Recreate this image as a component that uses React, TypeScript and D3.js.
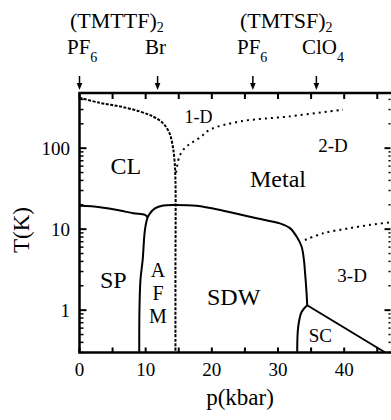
import React from 'react';
import * as d3 from 'd3';

// phase diagram of the Bechgaard / Fabre salts, T vs pressure
const width = 391;
const height = 420;

// top salt markers (kbar)
const saltNames = ['PF', 'Br', 'PF', 'ClO'];
const saltSubs = ['6', '', '6', '4'];
const saltP = [0, 11.8, 26.2, 35.8];

// charge localisation boundary (dashed)
const clP = [0, 3.1, 6.1, 9.1, 11.1, 12.6, 13.6, 14.1, 14.35, 14.5, 14.5, 14.5];
const clT = [420, 362, 328, 284, 246, 204, 153, 105, 72, 40, 3, 0.3];

// 1-D -> 2-D crossover (dotted)
const oneDP = [14.6, 15.1, 15.9, 16.9, 18.2, 19.7, 24.3, 31.8, 39.8];
const oneDT = [50, 79, 100, 116, 135, 169, 214, 247, 299];

// spin-Peierls line (solid)
const spP = [0, 3.1, 6.1, 8.13, 9.89, 10.3];
const spT = [19.4, 18.7, 17.0, 15.7, 15.0, 14.0];

// AFM + SDW boundary (solid)
const sdwP = [9.03, 9.06, 9.21, 9.55, 9.89, 10.3, 10.65, 11.4, 12.66, 14.53, 17.7, 21.72, 26.77, 30.29, 31.8, 32.81, 33.56, 33.91, 34.06, 34.32, 34.41];
const sdwT = [0.3, 1, 2.35, 4.2, 9.8, 14.0, 15.7, 18.1, 19.6, 19.9, 19.4, 16.9, 13.6, 11.8, 10.3, 8.1, 6.1, 4.2, 3.1, 1.61, 1.15];

// superconducting dome
const scP = [32.9, 33.05, 33.56, 34.41, 46.2];
const scT = [0.3, 0.62, 0.95, 1.15, 0.3];

// 2-D -> 3-D crossover (dotted)
const threeDP = [34.06, 36.83, 40.86, 44.9, 47];
const threeDT = [7.35, 8.9, 10.3, 11.6, 12.1];

// region labels
const regionText = ['CL', 'Metal', 'SP', 'SDW', 'A', 'F', 'M', 'SC', '3-D', '2-D', '1-D'];
const regionP = [7.0, 30.0, 5.1, 23.3, 11.86, 11.86, 11.86, 36.4, 41.2, 38.3, 18.0];
const regionT = [48, 33, 1.88, 1.16, 2.57, 1.33, 0.69, 0.4, 2.23, 89, 205];
const regionSize = [24, 24, 24, 24, 20, 20, 20, 19, 19, 19, 18];

const pTicks = [0, 5, 10, 15, 20, 25, 30, 35, 40, 45];
const pLabels = [0, 10, 20, 30, 40];
const tLabels = [1, 10, 100];

const font = '"Liberation Serif", "Times New Roman", serif';

export default function App() {
  const x = d3.scaleLinear().domain([0, 47]).range([79.5, 390.5]);
  const y = d3.scaleLog().domain([0.3, 480]).range([352.5, 93]);
  const left = x(0);
  const right = x(47);
  const top = y(480);
  const bottom = y(0.3);

  const line = d3
    .line<[number, number]>()
    .x(d => x(d[0]))
    .y(d => y(d[1]))
    .curve(d3.curveCatmullRom.alpha(0.5));
  const path = (ps: number[], ts: number[]) => line(ps.map((p, i) => [p, ts[i]] as [number, number])) || '';
  const straight = d3
    .line<[number, number]>()
    .x(d => x(d[0]))
    .y(d => y(d[1]));

  const tTicks = y.ticks();
  const isMajor = (t: number) => Math.abs(Math.log10(t) - Math.round(Math.log10(t))) < 1e-6;

  return (
    <div style={{ position: 'absolute', left: 0, top: 0 }}>
      <svg width={width} height={height} style={{ display: 'block', background: '#fff' }} fontFamily={font} fill="#000">
        {/* salt names */}
        <text x={70} y={28} fontSize={22}>
          (TMTTF)<tspan dy={4} fontSize={14}>2</tspan>
        </text>
        <text x={240} y={28} fontSize={22}>
          (TMTSF)<tspan dy={4} fontSize={14}>2</tspan>
        </text>
        {saltP.map((p, i) => {
          const cx = x(p);
          const startX = [67, 145, 237, 302][i];
          return (
            <g key={i}>
              <text x={startX} y={54} fontSize={21}>
                {saltNames[i]}
                {saltSubs[i] && <tspan dy={8} fontSize={14}>{saltSubs[i]}</tspan>}
              </text>
              <line x1={cx} x2={cx} y1={76} y2={85} stroke="#000" strokeWidth={1.5} />
              <path d={`M${cx - 2.8},${83} L${cx + 2.8},${83} L${cx},${90} Z`} fill="#000" />
            </g>
          );
        })}

        {/* curves */}
        <path d={path(clP, clT)} fill="none" stroke="#000" strokeWidth={2} strokeDasharray="3 1.5" />
        <path d={path(oneDP, oneDT)} fill="none" stroke="#000" strokeWidth={2} strokeDasharray="2 4" />
        <path d={path(spP, spT)} fill="none" stroke="#000" strokeWidth={2} />
        <path d={path(sdwP, sdwT)} fill="none" stroke="#000" strokeWidth={2} />
        <path d={path(scP.slice(0, 4), scT.slice(0, 4))} fill="none" stroke="#000" strokeWidth={2} />
        <path
          d={straight(scP.slice(3).map((p, i) => [p, scT[i + 3]] as [number, number])) || ''}
          fill="none"
          stroke="#000"
          strokeWidth={2}
        />
        <path d={path(threeDP, threeDT)} fill="none" stroke="#000" strokeWidth={2} strokeDasharray="2 4" />

        {/* frame */}
        <line x1={left} x2={left} y1={top} y2={bottom} stroke="#000" strokeWidth={2.5} />
        <line x1={left - 1.2} x2={width} y1={top} y2={top} stroke="#000" strokeWidth={2.5} />
        <line x1={left - 1.2} x2={width} y1={bottom} y2={bottom} stroke="#000" strokeWidth={2.5} />

        {/* pressure ticks */}
        {pTicks.map(p => (
          <g key={p}>
            <line x1={x(p)} x2={x(p)} y1={top} y2={top + 6} stroke="#000" strokeWidth={2} />
            <line x1={x(p)} x2={x(p)} y1={bottom} y2={bottom - 5} stroke="#000" strokeWidth={2} />
          </g>
        ))}
        {pLabels.map(p => (
          <text key={p} x={x(p)} y={376} fontSize={19} textAnchor="middle">
            {p}
          </text>
        ))}

        {/* temperature ticks */}
        {tTicks.map(t => {
          const major = isMajor(t);
          return (
            <g key={t}>
              <line x1={left} x2={left + (major ? 7 : 4)} y1={y(t)} y2={y(t)} stroke="#000" strokeWidth={major ? 2 : 1.5} />
              <line x1={right} x2={right - (major ? 6 : 2)} y1={y(t)} y2={y(t)} stroke="#000" strokeWidth={major ? 2 : 1.5} />
            </g>
          );
        })}
        {tLabels.map(t => (
          <text key={t} x={70} y={y(t)} dy="0.35em" fontSize={19} textAnchor="end">
            {t}
          </text>
        ))}

        {/* region labels */}
        {regionText.map((s, i) => (
          <text key={i} x={x(regionP[i])} y={y(regionT[i])} fontSize={regionSize[i]} textAnchor="middle">
            {s}
          </text>
        ))}

        {/* axis titles */}
        <text x={240} y={405} fontSize={23} textAnchor="middle">
          p(kbar)
        </text>
        <text transform="translate(29,230) rotate(-90)" fontSize={23} textAnchor="middle" fill="#000">
          T(K)
        </text>
      </svg>
    </div>
  );
}
